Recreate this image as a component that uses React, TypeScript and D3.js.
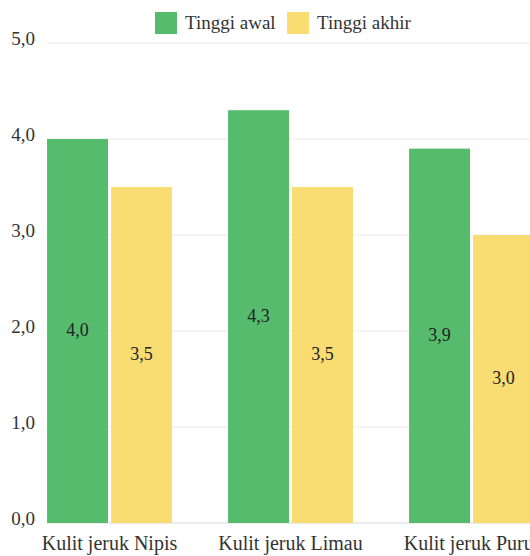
import * as React from "react"
import * as d3 from "d3"

const categories = ["Kulit jeruk Nipis", "Kulit jeruk Limau", "Kulit jeruk Purut"]
const seriesNames = ["Tinggi awal", "Tinggi akhir"]
const tinggiAwal = [4.0, 4.3, 3.9]
const tinggiAkhir = [3.5, 3.5, 3.0]
const yTicks = [0, 1, 2, 3, 4, 5]
const colors = ["#57bb6e", "#f9dc72"]

const width = 530
const height = 556
const fontFamily = '"Liberation Serif", "DejaVu Serif", serif'

const fmt = (v: number) => d3.format(".1f")(v).replace(".", ",")

function render(svgEl: SVGSVGElement) {
  const svg = d3.select(svgEl)
  svg.selectAll("*").remove()

  const x = d3
    .scaleBand<string>()
    .domain(categories)
    .range([19, 562])
    .paddingInner(0.31)
    .paddingOuter(0.155)

  const y = d3.scaleLinear().domain([0, 5]).range([523, 43])

  const gap = 3
  const barW = (x.bandwidth() - gap) / 2
  const series = [tinggiAwal, tinggiAkhir]

  // grid lines
  svg
    .append("g")
    .selectAll("line")
    .data(yTicks)
    .join("line")
    .attr("x1", 47)
    .attr("x2", width)
    .attr("y1", (d) => y(d))
    .attr("y2", (d) => y(d))
    .attr("stroke", (d) => (d === 0 ? "#d9d9d9" : "#ececec"))
    .attr("stroke-width", 1)

  // y labels
  svg
    .append("g")
    .selectAll("text")
    .data(yTicks)
    .join("text")
    .attr("x", 35)
    .attr("y", (d) => y(d))
    .attr("dy", "0.1em")
    .attr("text-anchor", "end")
    .style("font-family", fontFamily)
    .attr("font-size", 19)
    .attr("fill", "#333")
    .text((d) => fmt(d))

  // bars
  series.forEach((vals, si) => {
    const g = svg.append("g")
    g.selectAll("rect")
      .data(vals)
      .join("rect")
      .attr("x", (_, i) => x(categories[i])! + si * (barW + gap))
      .attr("y", (d) => y(d))
      .attr("width", barW)
      .attr("height", (d) => y(0) - y(d))
      .attr("fill", colors[si])

    g.selectAll("text")
      .data(vals)
      .join("text")
      .attr("x", (_, i) => x(categories[i])! + si * (barW + gap) + barW / 2)
      .attr("y", (d) => (y(d) + y(0)) / 2)
      .attr("dy", "0.3em")
      .attr("text-anchor", "middle")
      .style("font-family", fontFamily)
      .attr("font-size", 18)
      .attr("fill", "#222")
      .text((d) => fmt(d))
  })

  // category labels
  svg
    .append("g")
    .selectAll("text")
    .data(categories)
    .join("text")
    .attr("x", (d) => x(d)! + x.bandwidth() / 2)
    .attr("y", 550)
    .attr("text-anchor", "middle")
    .style("font-family", fontFamily)
    .attr("font-size", 20)
    .attr("fill", "#333")
    .text((d) => d)

  // legend
  const legendX = [155, 287]
  const legend = svg
    .append("g")
    .selectAll("g")
    .data(seriesNames)
    .join("g")
    .attr("transform", (_, i) => `translate(${legendX[i]},12)`)
  legend
    .append("rect")
    .attr("width", 22)
    .attr("height", 22)
    .attr("fill", (_, i) => colors[i])
  legend
    .append("text")
    .attr("x", 30)
    .attr("y", 11)
    .attr("dy", "0.3em")
    .style("font-family", fontFamily)
    .attr("font-size", 19)
    .attr("fill", "#333")
    .text((d) => d)
}

export default function App(): React.JSX.Element {
  const svgRef = React.useRef<SVGSVGElement>(null)

  React.useEffect(() => {
    if (!svgRef.current) return
    render(svgRef.current)
  }, [])

  return (
    <div style={{ position: "absolute", left: 0, top: 0, width, height, overflow: "hidden", background: "#fff" }}>
      <svg ref={svgRef} width={width} height={height} style={{ display: "block" }} />
    </div>
  )
}
